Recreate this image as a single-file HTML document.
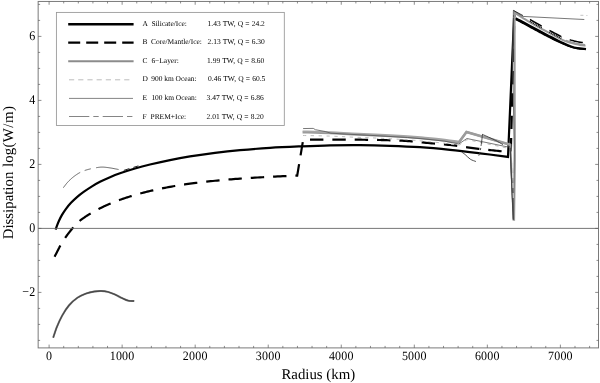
<!DOCTYPE html>
<html><head><meta charset="utf-8"><title>Dissipation vs Radius</title>
<style>
html,body{margin:0;padding:0;background:#fff;}
body{width:600px;height:383px;overflow:hidden;}
svg{display:block;}
text{font-family:"Liberation Serif","Times New Roman",serif;fill:#000;text-rendering:geometricPrecision;}
.lg{font-size:7.45px;}
.lv{font-size:7.5px;word-spacing:0.3px;}
.tk{font-size:12px;letter-spacing:0.2px;}
.ax{font-size:14.85px;}
</style></head><body>
<svg width="600" height="383" viewBox="0 0 600 383">
<rect width="600" height="383" fill="#fff"/>
<g id="curves">
<path d="M55.60 229.62 C55.83 228.94 56.43 227.04 57.00 225.56 C57.57 224.07 58.17 222.50 59.00 220.72 C59.83 218.95 60.83 216.90 62.00 214.92 C63.17 212.94 64.50 210.83 66.00 208.82 C67.50 206.81 69.17 204.80 71.00 202.84 C72.83 200.88 74.83 198.93 77.00 197.07 C79.17 195.20 81.50 193.45 84.00 191.66 C86.50 189.87 89.33 187.97 92.00 186.32 C94.67 184.67 97.00 183.31 100.00 181.78 C103.00 180.25 106.67 178.58 110.00 177.16 C113.33 175.74 115.83 174.73 120.00 173.28 C124.17 171.84 130.00 169.95 135.00 168.49 C140.00 167.04 144.17 165.95 150.00 164.55 C155.83 163.15 163.33 161.42 170.00 160.07 C176.67 158.72 182.50 157.65 190.00 156.46 C197.50 155.26 206.67 153.93 215.00 152.88 C223.33 151.84 230.83 151.02 240.00 150.19 C249.17 149.35 260.00 148.50 270.00 147.87 C280.00 147.24 290.00 146.83 300.00 146.41 C310.00 145.99 320.00 145.56 330.00 145.34 C340.00 145.12 350.00 145.02 360.00 145.10 C370.00 145.17 380.00 145.42 390.00 145.78 C400.00 146.13 410.00 146.54 420.00 147.22 C430.00 147.90 440.00 148.84 450.00 149.85 C460.00 150.86 470.33 152.12 480.00 153.29 C489.67 154.47 503.33 156.30 508.00 156.90 L514.00 18.90 L515.60 19.00" fill="none" stroke="#000" stroke-width="2.2" stroke-linejoin="miter" id="pA"/>
<path d="M515.60 18.35 C516.33 18.72 517.60 19.28 520.00 20.55 C522.40 21.82 526.67 24.15 530.00 25.95 C533.33 27.75 536.67 29.58 540.00 31.35 C543.33 33.12 547.20 35.10 550.00 36.55 C552.80 38.00 554.53 38.92 556.80 40.05 C559.07 41.18 561.33 42.32 563.60 43.35 C565.87 44.38 568.13 45.45 570.40 46.25 C572.67 47.05 574.60 47.67 577.20 48.15 C579.80 48.63 584.53 48.98 586.00 49.15" fill="none" stroke="#000" stroke-width="2.3"/>
<path d="M515.60 19.45 L515.79 19.55 L516.01 19.65 L516.26 19.77 L516.53 19.90 L516.84 20.05 L517.17 20.21 L517.55 20.40 L517.96 20.60 L518.40 20.82 L518.89 21.07 L519.42 21.35 L520.00 21.65 L520.64 21.99 L521.34 22.36 L522.11 22.78 L522.92 23.21 L523.77 23.67 L524.65 24.15 L525.55 24.64 L526.46 25.13 L527.37 25.63 L528.27 26.11 L529.15 26.59 L530.00 27.05 L530.83 27.50 L531.67 27.95 L532.50 28.40 L533.33 28.86 L534.17 29.31 L535.00 29.76 L535.83 30.21 L536.67 30.66 L537.50 31.11 L538.33 31.56 L539.17 32.01 L540.00 32.45 L540.84 32.90 L541.70 33.35 L542.58 33.80 L543.45 34.26 L544.33 34.72 L545.20 35.17 L546.06 35.61 L546.90 36.05 L547.73 36.47 L548.52 36.88 L549.28 37.28 L550.00 37.65 L550.68 38.00 L551.32 38.33 L551.92 38.65 L552.50 38.95 L553.06 39.24 L553.60 39.52 L554.13 39.79 L554.65 40.06 L555.17 40.32 L555.70 40.57 L556.24 40.82 L556.80 41.08 L557.37 41.34 L557.93 41.60 L558.50 41.86 L559.07 42.12 L559.63 42.38 L560.20 42.63 L560.77 42.89 L561.33 43.14 L561.90 43.39 L562.47 43.63 L563.03 43.87 L563.60 44.11 L564.17 44.35 L564.73 44.59 L565.30 44.82 L565.87 45.06 L566.43 45.29 L567.00 45.52 L567.57 45.74 L568.13 45.96 L568.70 46.17 L569.27 46.37 L569.83 46.56 L570.40 46.74 L570.96 46.92 L571.51 47.09 L572.05 47.25 L572.59 47.40 L573.13 47.55 L573.68 47.69 L574.22 47.82 L574.79 47.94 L575.36 48.06 L575.95 48.17 L576.56 48.28 L577.20 48.38 L577.89 48.47 L578.65 48.55 L579.47 48.63 L580.31 48.69 L581.17 48.75 L582.03 48.81 L582.86 48.86" fill="none" stroke="#000" stroke-width="1.6"/>
<path d="M54.60 256.70 L54.75 256.40 L54.95 256.02 L55.18 255.58 L55.43 255.09 L55.71 254.55 L56.00 253.98 L56.30 253.39 L56.61 252.79 L56.92 252.19 L57.23 251.60 L57.52 251.03 L57.80 250.50 L58.06 249.99 L58.31 249.49 L58.56 249.00 L58.80 248.51 L59.05 248.03 L59.29 247.54 L59.55 247.04 L59.81 246.54 L60.08 246.03 L60.37 245.50 L60.67 244.96 L61.00 244.40 L61.35 243.81 L61.73 243.19 L62.12 242.55 L62.54 241.90 L62.96 241.23 L63.39 240.56 L63.83 239.89 L64.26 239.23 L64.69 238.58 L65.11 237.96 L65.51 237.36 L65.90 236.80 L66.27 236.27 L66.63 235.76 L66.99 235.28 L67.33 234.81 L67.68 234.36 L68.01 233.92 L68.35 233.49 L68.68 233.07 L69.01 232.65 L69.34 232.23 L69.67 231.82 L70.00 231.40 L70.33 230.98 L70.67 230.56 L71.01 230.14 L71.34 229.73 L71.68 229.32 L72.01 228.92 L72.34 228.52 L72.67 228.14 L72.99 227.76 L73.30 227.39 L73.60 227.04 L73.90 226.70 L74.18 226.38 L74.46 226.07 L74.72 225.77 L74.97 225.49 L75.22 225.22 L75.47 224.96 L75.71 224.70 L75.96 224.44 L76.21 224.19 L76.46 223.93 L76.73 223.67 L77.00 223.40 L77.28 223.13 L77.56 222.86 L77.85 222.59 L78.13 222.33 L78.42 222.06 L78.72 221.79 L79.02 221.53 L79.32 221.26 L79.63 221.00 L79.95 220.73 L80.27 220.47 L80.60 220.20 L80.93 219.94 L81.27 219.67 L81.61 219.41 L81.95 219.15 L82.30 218.89 L82.65 218.63 L83.01 218.37 L83.39 218.11 L83.77 217.84 L84.16 217.57 L84.57 217.29 L85.00 217.00 L85.43 216.71 L85.87 216.42 L86.32 216.13 L86.77 215.83 L87.23 215.54 L87.71 215.23 L88.21 214.92 L88.72 214.61 L89.25 214.28 L89.81 213.95 L90.39 213.61 L91.00 213.25 L91.64 212.88 L92.31 212.49 L93.02 212.09 L93.74 211.68 L94.49 211.27 L95.25 210.84 L96.03 210.42 L96.81 209.99 L97.61 209.56 L98.41 209.15 L99.21 208.73 L100.00 208.33 L100.80 207.93 L101.61 207.54 L102.43 207.14 L103.26 206.75 L104.10 206.36 L104.94 205.97 L105.78 205.58 L106.63 205.20 L107.48 204.82 L108.32 204.45 L109.16 204.09 L110.00 203.73 L110.82 203.38 L111.61 203.05 L112.38 202.73 L113.15 202.41 L113.91 202.10 L114.69 201.80 L115.48 201.49 L116.30 201.18 L117.15 200.86 L118.04 200.53 L118.99 200.19 L120.00 199.83 L121.07 199.46 L122.21 199.06 L123.40 198.66 L124.63 198.25 L125.90 197.83 L127.19 197.40 L128.50 196.98 L129.81 196.56 L131.13 196.14 L132.44 195.74 L133.73 195.35 L135.00 194.97 L136.23 194.61 L137.44 194.26 L138.63 193.93 L139.81 193.60 L141.00 193.27 L142.19 192.96 L143.40 192.64 L144.63 192.32 L145.90 192.01 L147.21 191.69 L148.57 191.36 L150.00 191.03 L151.49 190.69 L153.04 190.34 L154.65 189.98 L156.30 189.63 L157.98 189.27 L159.69 188.91 L161.41 188.55 L163.15 188.20 L164.88 187.85 L166.61 187.52 L168.32 187.19 L170.00 186.88 L171.65 186.58 L173.28 186.29 L174.88 186.01 L176.48 185.74 L178.08 185.47 L179.69 185.22 L181.31 184.96 L182.96 184.71 L184.65 184.46 L186.38 184.21 L188.16 183.95 L190.00 183.70 L191.91 183.44 L193.88 183.19 L195.90 182.93 L197.96 182.67 L200.06 182.41 L202.19 182.16 L204.33 181.91 L206.48 181.66 L208.63 181.42 L210.78 181.19 L212.90 180.97 L215.00 180.75 L217.07 180.54 L219.11 180.35 L221.13 180.16 L223.15 179.97 L225.16 179.80 L227.19 179.62 L229.23 179.46 L231.30 179.29 L233.40 179.13 L235.54 178.97 L237.74 178.80 L240.00 178.64 L242.33 178.48 L244.74 178.31 L247.21 178.15 L249.73 177.99 L252.29 177.83 L254.86 177.67 L257.45 177.52 L260.02 177.37 L262.58 177.23 L265.10 177.09 L267.58 176.95 L270.00 176.82 L272.45 176.69 L275.01 176.57 L277.63 176.44 L280.28 176.32 L282.91 176.21 L285.47 176.10 L287.94 175.99 L290.25 175.89 L292.38 175.81 L294.27 175.73 L295.89 175.66 L297.20 175.60 L303.10 140.10 L303.41 140.07 L303.78 140.04 L304.20 140.00 L304.66 139.95 L305.18 139.90 L305.74 139.85 L306.34 139.80 L306.99 139.75 L307.68 139.70 L308.42 139.66 L309.19 139.63 L310.00 139.60 L310.84 139.58 L311.71 139.57 L312.61 139.56 L313.55 139.56 L314.53 139.56 L315.56 139.57 L316.64 139.57 L317.77 139.58 L318.97 139.59 L320.24 139.59 L321.58 139.60 L323.00 139.60 L324.52 139.60 L326.13 139.60 L327.84 139.60 L329.63 139.59 L331.48 139.59 L333.38 139.59 L335.31 139.59 L337.26 139.59 L339.22 139.59 L341.17 139.59 L343.10 139.59 L345.00 139.60 L346.91 139.61 L348.87 139.62 L350.87 139.63 L352.89 139.65 L354.92 139.66 L356.94 139.68 L358.93 139.70 L360.89 139.72 L362.79 139.74 L364.62 139.76 L366.36 139.78 L368.00 139.80 L369.50 139.82 L370.87 139.84 L372.12 139.86 L373.30 139.87 L374.41 139.89 L375.50 139.91 L376.59 139.93 L377.70 139.96 L378.88 139.99 L380.13 140.02 L381.50 140.06 L383.00 140.10 L384.64 140.15 L386.38 140.19 L388.21 140.23 L390.11 140.28 L392.07 140.33 L394.06 140.39 L396.08 140.45 L398.11 140.52 L400.13 140.60 L402.13 140.69 L404.09 140.79 L406.00 140.90 L407.87 141.03 L409.72 141.18 L411.57 141.34 L413.41 141.51 L415.24 141.69 L417.06 141.88 L418.88 142.07 L420.70 142.26 L422.52 142.45 L424.34 142.64 L426.17 142.82 L428.00 143.00 L429.83 143.17 L431.66 143.33 L433.48 143.48 L435.30 143.63 L437.12 143.78 L438.94 143.94 L440.76 144.09 L442.59 144.26 L444.43 144.43 L446.28 144.60 L448.13 144.80 L450.00 145.00 L451.88 145.22 L453.79 145.46 L455.70 145.71 L457.63 145.97 L459.56 146.24 L461.50 146.52 L463.44 146.80 L465.37 147.07 L467.30 147.34 L469.21 147.61 L471.12 147.86 L473.00 148.10 L474.89 148.33 L476.80 148.56 L478.72 148.79 L480.64 149.01 L482.55 149.23 L484.45 149.45 L486.32 149.66 L488.16 149.86 L489.96 150.06 L491.70 150.25 L493.39 150.43 L495.00 150.60 L496.58 150.76 L498.18 150.93 L499.76 151.08 L501.31 151.23 L502.82 151.37 L504.28 151.51 L505.65 151.63 L506.93 151.75 L508.11 151.85 L509.15 151.95 L510.06 152.03 L510.80 152.10" fill="none" stroke="#000" stroke-width="2.2" stroke-dasharray="13.4 8.95" stroke-dashoffset="-21.54" id="pB"/>
<path d="M510.80 152.10 L514.40 15.00" fill="none" stroke="#000" stroke-width="2.2" stroke-dasharray="13.4 8.95" stroke-dashoffset="-0.7"/>
<path d="M53.20 337.70 C53.83 335.87 55.52 330.37 57.00 326.70 C58.48 323.03 60.12 319.23 62.10 315.70 C64.08 312.17 66.35 308.48 68.90 305.50 C71.45 302.52 74.58 299.78 77.40 297.80 C80.22 295.82 82.98 294.65 85.80 293.60 C88.62 292.55 91.75 291.93 94.30 291.50 C96.85 291.07 98.83 290.93 101.10 291.00 C103.37 291.07 105.63 291.33 107.90 291.90 C110.17 292.47 112.43 293.42 114.70 294.40 C116.97 295.38 119.23 296.75 121.50 297.80 C123.77 298.85 126.18 300.17 128.30 300.70 C130.42 301.23 133.22 300.95 134.20 301.00" fill="none" stroke="#8c8c8c" stroke-width="2.0"/>
<path d="M53.20 337.70 C53.83 335.87 55.52 330.37 57.00 326.70 C58.48 323.03 60.12 319.23 62.10 315.70 C64.08 312.17 66.35 308.48 68.90 305.50 C71.45 302.52 74.58 299.78 77.40 297.80 C80.22 295.82 82.98 294.65 85.80 293.60 C88.62 292.55 91.75 291.93 94.30 291.50 C96.85 291.07 98.83 290.93 101.10 291.00 C103.37 291.07 105.63 291.33 107.90 291.90 C110.17 292.47 112.43 293.42 114.70 294.40 C116.97 295.38 119.23 296.75 121.50 297.80 C123.77 298.85 126.18 300.17 128.30 300.70 C130.42 301.23 133.22 300.95 134.20 301.00" fill="none" stroke="#4a4a4a" stroke-width="1.3"/>
<path d="M302.60 132.40 C307.17 132.53 321.77 132.87 330.00 133.20 C338.23 133.53 344.50 134.02 352.00 134.40 C359.50 134.78 365.75 135.03 375.00 135.50 C384.25 135.97 399.17 136.67 407.50 137.20 C415.83 137.73 418.79 138.12 425.00 138.70 C431.21 139.28 439.12 140.05 444.75 140.70 C450.38 141.35 456.42 142.28 458.75 142.60 L466.50 132.00 L510.40 144.80 L513.60 219.80 L514.10 219.80 L514.90 160.00 L514.70 100.00 L514.60 12.60 L523.75 18.65 C526.88 20.42 536.25 25.86 542.50 29.30 C548.75 32.74 556.50 37.03 561.25 39.30 C566.00 41.57 567.92 41.97 571.00 42.90 C574.08 43.83 577.33 44.43 579.75 44.90 C582.17 45.37 584.54 45.57 585.50 45.70" fill="none" stroke="#999" stroke-width="2.0" stroke-linejoin="miter" stroke-miterlimit="10"/>
<path d="M302.60 131.30 C307.17 131.43 321.77 131.77 330.00 132.10 C338.23 132.43 344.50 132.92 352.00 133.30 C359.50 133.68 365.75 133.93 375.00 134.40 C384.25 134.87 399.17 135.57 407.50 136.10 C415.83 136.63 418.79 137.02 425.00 137.60 C431.21 138.18 439.12 138.95 444.75 139.60 C450.38 140.25 456.42 141.18 458.75 141.50" fill="none" stroke="#a6a6a6" stroke-width="1.7"/>
<path d="M458.75 142.60 L466.50 132.00 L510.40 144.80" fill="none" stroke="#9c9c9c" stroke-width="2.6" stroke-linejoin="miter"/>
<path d="M523.75 15.90 L524.66 16.42 L525.79 17.07 L527.12 17.83 L528.61 18.69 L530.23 19.62 L531.95 20.60 L533.74 21.62 L535.56 22.65 L537.37 23.68 L539.16 24.69 L540.88 25.65 L542.50 26.55 L544.09 27.43 L545.73 28.33 L547.40 29.25 L549.08 30.17 L550.77 31.09 L552.44 31.99 L554.08 32.87 L555.67 33.71 L557.20 34.52 L558.65 35.26 L560.00 35.94 L561.25 36.55 L562.38 37.08 L563.41 37.54 L564.34 37.94 L565.20 38.28 L566.00 38.58 L566.75 38.85 L567.46 39.09 L568.16 39.31 L568.84 39.51 L569.54 39.72 L570.25 39.93 L571.00 40.15 L571.77 40.38 L572.55 40.59 L573.33 40.79 L574.10 40.98 L574.87 41.16 L575.62 41.32 L576.37 41.48 L577.09 41.63 L577.80 41.77 L578.48 41.90 L579.13 42.03 L579.75 42.15 L580.35 42.26 L580.95 42.36 L581.53 42.45 L582.10 42.54 L582.65 42.61 L583.17 42.67 L583.66 42.73 L584.12 42.79 L584.54 42.83 L584.91 42.88 L585.23 42.92 L585.50 42.95" fill="none" stroke="#000" stroke-width="1.5" stroke-dasharray="13.4 8.95" stroke-dashoffset="-7.20"/>
<path d="M523.75 17.55 L524.66 18.07 L525.79 18.72 L527.12 19.48 L528.61 20.34 L530.23 21.27 L531.95 22.25 L533.74 23.27 L535.56 24.30 L537.37 25.33 L539.16 26.34 L540.88 27.30 L542.50 28.20 L544.09 29.08 L545.73 29.98 L547.40 30.90 L549.08 31.82 L550.77 32.74 L552.44 33.64 L554.08 34.52 L555.67 35.36 L557.20 36.17 L558.65 36.91 L560.00 37.59 L561.25 38.20 L562.38 38.73 L563.41 39.19 L564.34 39.59 L565.20 39.93 L566.00 40.23" fill="none" stroke="#000" stroke-width="1.7" stroke-dasharray="0.9 0.9 0.9 0.9 0.9 0.9 0.9 0.9 0.9 0.9 0.9 0.9 0.9 0.9 0.8 8.95" stroke-dashoffset="-7.20"/>
<path d="M566.00 40.33 L566.00 40.33 L566.75 40.60 L567.46 40.84 L568.16 41.06 L568.84 41.26 L569.54 41.47 L570.25 41.68 L571.00 41.90 L571.77 42.13 L572.55 42.34 L573.33 42.54 L574.10 42.73 L574.87 42.91 L575.62 43.07 L576.37 43.23 L577.09 43.38 L577.80 43.52 L578.48 43.65 L579.13 43.78 L579.75 43.90 L580.35 44.01 L580.95 44.11 L581.53 44.20 L582.10 44.29 L582.65 44.36 L583.17 44.42 L583.66 44.48 L584.12 44.54 L584.54 44.58 L584.91 44.63 L585.00 44.64" fill="none" stroke="#999" stroke-width="1.4"/>
<path d="M303.00 135.50 C307.50 135.60 321.83 135.83 330.00 136.10 C338.17 136.37 344.50 136.78 352.00 137.10 C359.50 137.42 365.75 137.55 375.00 138.00 C384.25 138.45 399.17 139.25 407.50 139.80 C415.83 140.35 418.79 140.72 425.00 141.30 C431.21 141.88 439.12 142.62 444.75 143.30 C450.38 143.98 456.42 145.05 458.75 145.40 L467.00 139.60 L507.00 148.00" fill="none" stroke="#bdbdbd" stroke-width="1.0" stroke-dasharray="3.3 4.5"/>
<path d="M580.4 15.3 H583.4 M586.4 15.5 h1" fill="none" stroke="#c4c4c4" stroke-width="1.0"/>
<path d="M303.10 128.55 L313.30 128.40 L315.40 129.70 L325.20 131.50 L331.00 133.20 L352.00 134.40 L375.00 135.60 L407.50 137.50 L425.00 139.00 L444.75 141.20 L458.75 144.00 L466.90 138.50 L507.50 146.90 L510.00 146.60 L513.40 219.80 L514.30 150.00 L512.60 60.00 L513.40 10.40 L522.50 16.40 L584.30 19.50" fill="none" stroke="#555" stroke-width="0.8" stroke-linejoin="miter" stroke-miterlimit="10"/>
<path d="M510.2 148 L513.3 219.5" fill="none" stroke="#444" stroke-width="1.2"/>
<path d="M512.5 163 L513.4 203" fill="none" stroke="#e4e4e4" stroke-width="0.9" stroke-dasharray="5 5"/>
<path d="M63.30 187.80 L63.48 187.57 L63.69 187.28 L63.94 186.94 L64.22 186.55 L64.53 186.14 L64.86 185.69 L65.20 185.24 L65.56 184.77 L65.92 184.31 L66.28 183.85 L66.64 183.41 L67.00 183.00 L67.36 182.60 L67.73 182.19 L68.11 181.79 L68.51 181.37 L68.91 180.96 L69.31 180.56 L69.72 180.15 L70.13 179.76 L70.53 179.37 L70.93 179.00 L71.32 178.64 L71.70 178.30 L72.07 177.97 L72.44 177.66 L72.81 177.36 L73.17 177.07 L73.54 176.79 L73.89 176.51 L74.25 176.25 L74.60 175.99 L74.96 175.74 L75.31 175.49 L75.65 175.24 L76.00 175.00 L76.34 174.76 L76.68 174.53 L77.00 174.31 L77.33 174.09 L77.65 173.88 L77.97 173.67 L78.30 173.47 L78.63 173.27 L78.96 173.07 L79.30 172.88 L79.64 172.69 L80.00 172.50 L80.20 172.40" fill="none" stroke="#444" stroke-width="0.85"/>
<path d="M84.70 170.50 L84.70 170.50 L85.16 170.35 L85.64 170.19 L86.14 170.04 L86.65 169.89 L87.18 169.74 L87.70 169.59 L88.23 169.45 L88.76 169.31 L89.29 169.18 L89.80 169.05 L90.31 168.92 L90.80 168.80 L90.80 168.80" fill="none" stroke="#444" stroke-width="0.85"/>
<path d="M96.10 167.72 L96.25 167.70 L96.74 167.63 L97.23 167.55 L97.73 167.48 L98.23 167.41 L98.73 167.34 L99.25 167.28 L99.77 167.23 L100.29 167.18 L100.83 167.14 L101.38 167.11 L101.93 167.10 L102.50 167.10 L103.08 167.12 L103.66 167.14 L104.26 167.18 L104.87 167.23 L105.48 167.29 L106.10 167.36 L106.73 167.44 L107.37 167.52 L108.02 167.61 L108.67 167.70 L109.33 167.80 L110.00 167.90 L110.71 168.01 L111.47 168.14 L112.27 168.28 L113.10 168.43 L113.94 168.59 L114.77 168.75 L115.57 168.91 L116.33 169.06 L117.03 169.19 L117.65 169.32 L118.18 169.42 L118.60 169.50" fill="none" stroke="#444" stroke-width="0.85"/>
<path d="M123.8 170.4 L129.4 168.6 M133.4 167.4 L138.4 165.9" fill="none" stroke="#222" stroke-width="1.0"/>
<path d="M461.60 152.00 C462.20 152.43 463.75 153.40 465.20 154.60 C466.65 155.80 468.52 158.05 470.30 159.20 C472.08 160.35 474.97 161.12 475.90 161.50" fill="none" stroke="#3a3a3a" stroke-width="0.9"/>
<path d="M482.50 134.10 C482.40 135.00 482.11 137.77 481.90 139.50 C481.69 141.23 481.57 142.42 481.25 144.50 C480.93 146.58 480.42 150.12 480.00 152.00 C479.58 153.88 478.96 155.12 478.75 155.75" fill="none" stroke="#3a3a3a" stroke-width="0.9" stroke-dasharray="12 2 2 2 4 2"/>
<path d="M482.50 134.40 C483.53 134.87 486.48 136.18 488.70 137.20 C490.92 138.22 493.42 139.27 495.80 140.50 C498.18 141.73 501.80 143.92 503.00 144.60" fill="none" stroke="#3a3a3a" stroke-width="0.9"/>
<path d="M513.4 10.4 L523 15.6" fill="none" stroke="#222" stroke-width="0.9"/>
</g>
<g id="axes" fill="none" stroke="#7a7a7a" stroke-width="1">
<path d="M38.15 228.40 H598.5" stroke="#666" stroke-width="0.9"/>
<rect x="38.15" y="1.45" width="560.35" height="346.45"/>
<path d="M49.10 347.9 v-3.3 M49.10 1.45 v3.3 M63.71 347.9 v-2.0 M63.71 1.45 v2.0 M78.32 347.9 v-2.0 M78.32 1.45 v2.0 M92.92 347.9 v-2.0 M92.92 1.45 v2.0 M107.53 347.9 v-2.0 M107.53 1.45 v2.0 M122.14 347.9 v-3.3 M122.14 1.45 v3.3 M136.75 347.9 v-2.0 M136.75 1.45 v2.0 M151.36 347.9 v-2.0 M151.36 1.45 v2.0 M165.96 347.9 v-2.0 M165.96 1.45 v2.0 M180.57 347.9 v-2.0 M180.57 1.45 v2.0 M195.18 347.9 v-3.3 M195.18 1.45 v3.3 M209.79 347.9 v-2.0 M209.79 1.45 v2.0 M224.40 347.9 v-2.0 M224.40 1.45 v2.0 M239.00 347.9 v-2.0 M239.00 1.45 v2.0 M253.61 347.9 v-2.0 M253.61 1.45 v2.0 M268.22 347.9 v-3.3 M268.22 1.45 v3.3 M282.83 347.9 v-2.0 M282.83 1.45 v2.0 M297.44 347.9 v-2.0 M297.44 1.45 v2.0 M312.04 347.9 v-2.0 M312.04 1.45 v2.0 M326.65 347.9 v-2.0 M326.65 1.45 v2.0 M341.26 347.9 v-3.3 M341.26 1.45 v3.3 M355.87 347.9 v-2.0 M355.87 1.45 v2.0 M370.48 347.9 v-2.0 M370.48 1.45 v2.0 M385.08 347.9 v-2.0 M385.08 1.45 v2.0 M399.69 347.9 v-2.0 M399.69 1.45 v2.0 M414.30 347.9 v-3.3 M414.30 1.45 v3.3 M428.91 347.9 v-2.0 M428.91 1.45 v2.0 M443.52 347.9 v-2.0 M443.52 1.45 v2.0 M458.12 347.9 v-2.0 M458.12 1.45 v2.0 M472.73 347.9 v-2.0 M472.73 1.45 v2.0 M487.34 347.9 v-3.3 M487.34 1.45 v3.3 M501.95 347.9 v-2.0 M501.95 1.45 v2.0 M516.56 347.9 v-2.0 M516.56 1.45 v2.0 M531.16 347.9 v-2.0 M531.16 1.45 v2.0 M545.77 347.9 v-2.0 M545.77 1.45 v2.0 M560.38 347.9 v-3.3 M560.38 1.45 v3.3 M574.99 347.9 v-2.0 M574.99 1.45 v2.0 M589.60 347.9 v-2.0 M589.60 1.45 v2.0 M38.15 340.40 h2.0 M598.5 340.40 h-2.0 M38.15 324.40 h2.0 M598.5 324.40 h-2.0 M38.15 308.40 h2.0 M598.5 308.40 h-2.0 M38.15 292.40 h3.3 M598.5 292.40 h-3.3 M38.15 276.40 h2.0 M598.5 276.40 h-2.0 M38.15 260.40 h2.0 M598.5 260.40 h-2.0 M38.15 244.40 h2.0 M598.5 244.40 h-2.0 M38.15 228.40 h3.3 M598.5 228.40 h-3.3 M38.15 212.40 h2.0 M598.5 212.40 h-2.0 M38.15 196.40 h2.0 M598.5 196.40 h-2.0 M38.15 180.40 h2.0 M598.5 180.40 h-2.0 M38.15 164.40 h3.3 M598.5 164.40 h-3.3 M38.15 148.40 h2.0 M598.5 148.40 h-2.0 M38.15 132.40 h2.0 M598.5 132.40 h-2.0 M38.15 116.40 h2.0 M598.5 116.40 h-2.0 M38.15 100.40 h3.3 M598.5 100.40 h-3.3 M38.15 84.40 h2.0 M598.5 84.40 h-2.0 M38.15 68.40 h2.0 M598.5 68.40 h-2.0 M38.15 52.40 h2.0 M598.5 52.40 h-2.0 M38.15 36.40 h3.3 M598.5 36.40 h-3.3 M38.15 20.40 h2.0 M598.5 20.40 h-2.0 M38.15 4.40 h2.0 M598.5 4.40 h-2.0" stroke="#5c5c5c" stroke-width="0.7"/>
</g>
<g id="legend">
<rect x="56.4" y="12.4" width="227.9" height="113.1" fill="#fff" stroke="#969696" stroke-width="0.85"/>
<path d="M68.2 24.3 H133.6" stroke="#000" stroke-width="2.4"/>
<path d="M68.2 42.6 H133.6" stroke="#000" stroke-width="2.4" stroke-dasharray="12 6"/>
<path d="M68.2 61.2 H133.6" stroke="#8c8c8c" stroke-width="2"/>
<path d="M69 79.8 H130" stroke="#bdbdbd" stroke-width="1" stroke-dasharray="5.2 4"/>
<path d="M69 98.4 H133" stroke="#858585" stroke-width="1"/>
<path d="M69 116.5 H133" stroke="#858585" stroke-width="1" stroke-dasharray="20.3 4 5.4 4"/>
<text x="142.5" y="25.6" class="lg">A</text><text x="151.4" y="25.6" class="lg">Silicate/Ice:</text><text x="207.5" y="25.6" class="lg lv">1.43 TW, Q = 24.2</text>
<text x="142.5" y="44.2" class="lg">B</text><text x="151.0" y="44.2" class="lg">Core/Mantle/Ice:</text><text x="207.5" y="44.2" class="lg lv">2.13 TW, Q = 6.30</text>
<text x="142.5" y="62.8" class="lg">C</text><text x="151.4" y="62.8" class="lg">6−Layer:</text><text x="207.0" y="62.8" class="lg lv">1.99 TW, Q = 8.60</text>
<text x="142.5" y="81.4" class="lg">D</text><text x="151.2" y="81.4" class="lg">900 km Ocean:</text><text x="208.0" y="81.4" class="lg lv">0.46 TW, Q = 60.5</text>
<text x="142.5" y="100.0" class="lg">E</text><text x="151.4" y="100.0" class="lg">100 km Ocean:</text><text x="206.5" y="100.0" class="lg lv">3.47 TW, Q = 6.86</text>
<text x="142.5" y="118.6" class="lg">F</text><text x="150.5" y="118.6" class="lg">PREM+Ice:</text><text x="206.5" y="118.6" class="lg lv">2.01 TW, Q = 8.20</text>
</g>
<g id="labels">
<text transform="translate(49.1 360.2) scale(1 1.06)" class="tk" text-anchor="middle">0</text>
<text transform="translate(122.1 360.2) scale(1 1.06)" class="tk" text-anchor="middle">1000</text>
<text transform="translate(195.2 360.2) scale(1 1.06)" class="tk" text-anchor="middle">2000</text>
<text transform="translate(268.2 360.2) scale(1 1.06)" class="tk" text-anchor="middle">3000</text>
<text transform="translate(341.3 360.2) scale(1 1.06)" class="tk" text-anchor="middle">4000</text>
<text transform="translate(414.3 360.2) scale(1 1.06)" class="tk" text-anchor="middle">5000</text>
<text transform="translate(487.3 360.2) scale(1 1.06)" class="tk" text-anchor="middle">6000</text>
<text transform="translate(560.4 360.2) scale(1 1.06)" class="tk" text-anchor="middle">7000</text>
<text transform="translate(35.4 296.1) scale(1 1.1)" class="tk" text-anchor="end">−2</text>
<text transform="translate(35.4 232.1) scale(1 1.1)" class="tk" text-anchor="end">0</text>
<text transform="translate(35.4 168.1) scale(1 1.1)" class="tk" text-anchor="end">2</text>
<text transform="translate(35.4 104.1) scale(1 1.1)" class="tk" text-anchor="end">4</text>
<text transform="translate(35.4 40.1) scale(1 1.1)" class="tk" text-anchor="end">6</text>
<text x="318.3" y="379.1" class="ax" text-anchor="middle">Radius (km)</text>
<text transform="translate(12.7 239.3) rotate(-90)" class="ax">Dissipation</text>
<text transform="translate(12.7 166.9) rotate(-90)" class="ax">log</text>
<text transform="translate(12.7 147.6) rotate(-90)" class="ax" style="letter-spacing:0.5px">(W/m)</text>
</g>
</svg>
</body></html>
